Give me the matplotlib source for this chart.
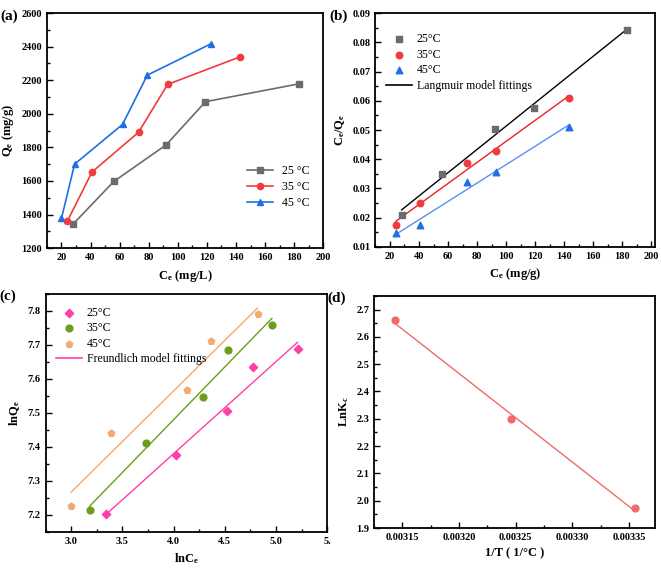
"""Adsorption isotherms and thermodynamics, four panels"""

import numpy as np
import matplotlib
matplotlib.use("Agg")
import matplotlib.pyplot as plt
from matplotlib.ticker import AutoMinorLocator

plt.rcParams["font.family"] = ["Liberation Serif", "DejaVu Serif"]
plt.rcParams["mathtext.fontset"] = "custom"
plt.rcParams["mathtext.rm"] = "Liberation Serif"
plt.rcParams["mathtext.bf"] = "Liberation Serif:bold"

TEMPS = ["25", "35", "45"]

# (a) equilibrium isotherms
ce_25 = [28, 56, 92, 119, 183]
qe_25 = [1343, 1597, 1815, 2072, 2178]
ce_35 = [24, 41, 73, 93, 143]
qe_35 = [1360, 1653, 1890, 2175, 2340]
ce_45 = [20, 29, 62, 79, 123]
qe_45 = [1377, 1700, 1937, 2230, 2418]

# (b) Langmuir linear form
lang_x_25 = [28, 56, 92, 119, 183]
lang_y_25 = [0.0210, 0.0349, 0.0505, 0.0575, 0.0841]
lang_x_35 = [24, 41, 73, 93, 143]
lang_y_35 = [0.0176, 0.0251, 0.0386, 0.0429, 0.0611]
lang_x_45 = [24, 41, 73, 93, 143]
lang_y_45 = [0.0147, 0.0175, 0.0322, 0.0357, 0.0511]

# (c) Freundlich linear form
ln_ce_25 = [3.34, 4.02, 4.52, 4.78, 5.21]
ln_qe_25 = [7.203, 7.376, 7.505, 7.635, 7.686]
ln_ce_35 = [3.18, 3.73, 4.29, 4.53, 4.96]
ln_qe_35 = [7.215, 7.411, 7.545, 7.685, 7.757]
ln_ce_45 = [3.00, 3.39, 4.13, 4.37, 4.82]
ln_qe_45 = [7.227, 7.440, 7.568, 7.710, 7.790]

# (d) van't Hoff
inv_t = [0.003143, 0.003246, 0.003355]
ln_kc = [2.660, 2.298, 1.972]

TICK = 7.5
LABEL = 9
LEG = 8.5


def style_axes(ax):
    for s in ax.spines.values():
        s.set_linewidth(1.3)
    ax.tick_params(which="both", direction="in", labelsize=TICK, width=1.0)
    ax.tick_params(which="major", length=4)
    ax.tick_params(which="minor", length=2)
    ax.xaxis.set_minor_locator(AutoMinorLocator(2))
    ax.yaxis.set_minor_locator(AutoMinorLocator(2))
    for lab in ax.get_xticklabels() + ax.get_yticklabels():
        lab.set_fontweight("bold")


def fit_line(ax, x, y, color):
    k, b = np.polyfit(x, y, 1)
    xs = np.array([min(x), max(x)])
    ax.plot(xs, k * xs + b, color=color, lw=1.0, zorder=2)


fig = plt.figure(figsize=(6.61, 5.69), dpi=100)

# ---- (a)
ax_a = fig.add_axes([0.071, 0.564, 0.418, 0.413])
colors_a = ["#6b6b6b", "#f03c3c", "#1e6fe6"]
for (x, y, m, c, t) in zip(
    [ce_25, ce_35, ce_45], [qe_25, qe_35, qe_45], ["s", "o", "^"], colors_a, TEMPS
):
    ax_a.plot(x, y, color=c, marker=m, ms=4.5, lw=1.2, label=f"{t} °C")
ax_a.set_xlim(10, 200)
ax_a.set_ylim(1200, 2600)
ax_a.set_xticks(np.arange(20, 201, 20))
ax_a.set_yticks(np.arange(1200, 2601, 200))
ax_a.set_xlabel(r"$\mathbf{C_e}$ (mg/L)", fontsize=LABEL, fontweight="bold")
ax_a.set_ylabel(r"$\mathbf{Q_e}$ (mg/g)", fontsize=LABEL, fontweight="bold")
ax_a.legend(loc="lower right", bbox_to_anchor=(0.99, 0.12), frameon=False,
            fontsize=LEG, handlelength=2.2, labelspacing=0.35)
style_axes(ax_a)

# ---- (b)
ax_b = fig.add_axes([0.568, 0.566, 0.423, 0.411])
colors_b = ["#6b6b6b", "#f03c3c", "#1e6fe6"]
line_b = ["black", "#ee2020", "#5b8ff0"]
for (x, y, m, c, t) in zip(
    [lang_x_25, lang_x_35, lang_x_45], [lang_y_25, lang_y_35, lang_y_45],
    ["s", "o", "^"], colors_b, TEMPS
):
    ax_b.scatter(x, y, marker=m, s=22, color=c, label=f"{t}°C", zorder=3)
for (x, y, c) in zip([lang_x_25, lang_x_35, lang_x_45],
                     [lang_y_25, lang_y_35, lang_y_45], line_b):
    fit_line(ax_b, x, y, c)
ax_b.plot([], [], color="black", lw=1.2, label="Langmuir model fittings")
ax_b.set_xlim(10, 202.5)
ax_b.set_ylim(0.01, 0.09)
ax_b.set_xticks(np.arange(20, 201, 20))
ax_b.set_yticks(np.arange(0.01, 0.0901, 0.01))
ax_b.set_xlabel(r"$\mathbf{C_e}$ (mg/g)", fontsize=LABEL, fontweight="bold")
ax_b.set_ylabel(r"$\mathbf{C_e/Q_e}$", fontsize=LABEL, fontweight="bold")
ax_b.legend(loc="upper left", bbox_to_anchor=(0.0, 0.96), frameon=False,
            fontsize=LEG, handlelength=2.2, labelspacing=0.3, handletextpad=0.4)
style_axes(ax_b)

# ---- (c)
ax_c = fig.add_axes([0.069, 0.065, 0.426, 0.419])
colors_c = ["#ff3fa8", "#6b9e1f", "#f5a870"]
for (x, y, m, c, t) in zip(
    [ln_ce_25, ln_ce_35, ln_ce_45], [ln_qe_25, ln_qe_35, ln_qe_45],
    ["D", "o", "p"], colors_c, TEMPS
):
    ax_c.scatter(x, y, marker=m, s=24 if m != "D" else 18, color=c,
                 label=f"{t}°C", zorder=3)
for (x, y, c) in zip([ln_ce_25, ln_ce_35, ln_ce_45],
                     [ln_qe_25, ln_qe_35, ln_qe_45], colors_c):
    fit_line(ax_c, x, y, c)
ax_c.plot([], [], color="#ff3fa8", lw=1.2, label="Freundlich model fittings")
ax_c.set_xlim(2.75, 5.5)
ax_c.set_ylim(7.15, 7.85)
ax_c.set_xticks([3.0, 3.5, 4.0, 4.5, 5.0, 5.5])
ax_c.set_xticklabels(["3.0", "3.5", "4.0", "4.5", "5.0", "5."])
ax_c.set_yticks(np.arange(7.2, 7.81, 0.1))
ax_c.set_xlabel(r"$\mathbf{lnC_e}$", fontsize=LABEL, fontweight="bold")
ax_c.set_ylabel(r"$\mathbf{lnQ_e}$", fontsize=LABEL, fontweight="bold")
ax_c.legend(loc="upper left", bbox_to_anchor=(0.0, 0.99), frameon=False,
            fontsize=LEG, handlelength=2.2, labelspacing=0.3, handletextpad=0.4)
style_axes(ax_c)

# ---- (d)
ax_d = fig.add_axes([0.566, 0.072, 0.425, 0.408])
ax_d.scatter(inv_t, ln_kc, s=24, color="#f06a6a", zorder=3)
fit_line(ax_d, inv_t, ln_kc, "#f06a6a")
ax_d.set_xlim(0.003125, 0.003373)
ax_d.set_ylim(1.9, 2.75)
ax_d.set_xticks([0.00315, 0.00320, 0.00325, 0.00330, 0.00335])
ax_d.set_xticklabels(["0.00315", "0.00320", "0.00325", "0.00330", "0.00335"])
ax_d.set_yticks(np.arange(1.9, 2.71, 0.1))
ax_d.set_xlabel("1/T ( 1/°C )", fontsize=LABEL, fontweight="bold")
ax_d.set_ylabel(r"$\mathbf{LnK_c}$", fontsize=LABEL, fontweight="bold")
style_axes(ax_d)

for ax, tag in zip([ax_a, ax_b, ax_c, ax_d], ["(a)", "(b)", "(c)", "(d)"]):
    bb = ax.get_position()
    fig.text(bb.x0 - 0.07, bb.y1 - 0.005, tag, fontsize=11, fontweight="bold",
             va="center", ha="left")

fig.savefig("out.png", dpi=100)
